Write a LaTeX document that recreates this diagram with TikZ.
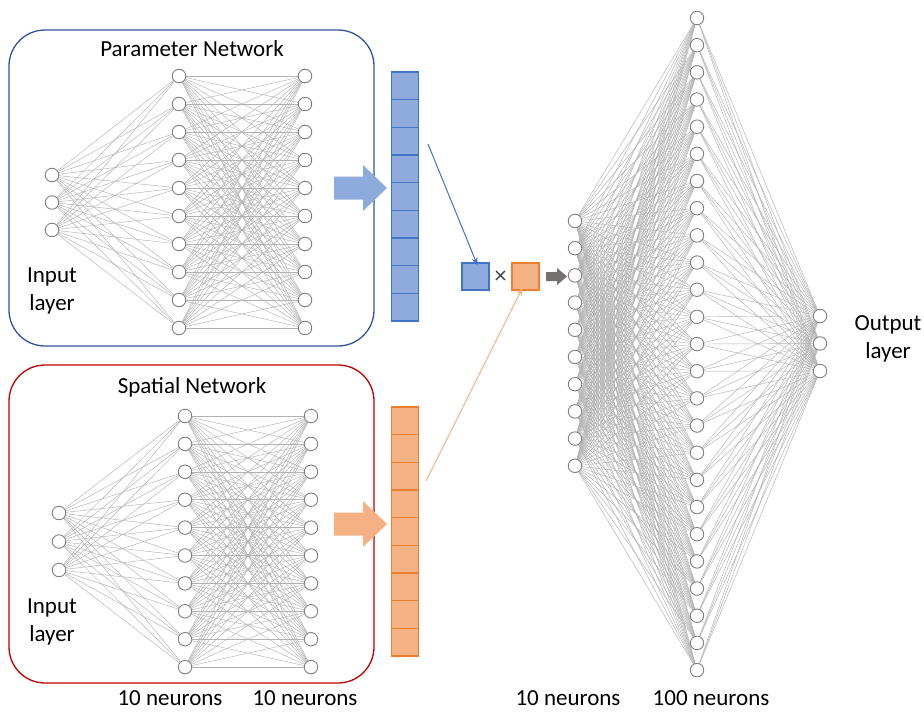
\documentclass[tikz,border=0pt]{standalone}
\usepackage{fontspec}
\setmainfont{Carlito}
\usetikzlibrary{backgrounds,arrows.meta}
\definecolor{pblue}{HTML}{2F5597}
\definecolor{sred}{HTML}{C00000}
\definecolor{bfill}{HTML}{8FAADC}
\definecolor{bline}{HTML}{4472C4}
\definecolor{ofill}{HTML}{F4B183}
\definecolor{oline}{HTML}{ED7D31}
\definecolor{garrow}{HTML}{767171}
\tikzset{
  neuron/.style={circle, draw=black!50, fill=white, line width=0.9pt, minimum size=13.5pt, inner sep=0pt},
  edge/.style={draw=black!30, line width=0.45pt},
  lbl/.style={font=\fontsize{23}{28}\selectfont, align=center, inner sep=0pt},
  netbox/.style={rounded corners=36pt, line width=1.3pt, minimum width=365pt, inner sep=0pt},
  bcell/.style={draw=bline, fill=bfill, line width=1.2pt, minimum width=27pt, minimum height=27.67pt, inner sep=0pt},
  ocell/.style={draw=oline, fill=ofill, line width=1.2pt, minimum width=27pt, minimum height=27.67pt, inner sep=0pt},
}
\begin{document}
\begin{tikzpicture}[x=1pt,y=-1pt]
\useasboundingbox (0,0) rectangle (924,712);
% boxes
\node[netbox, draw=pblue, minimum height=316pt] (pbox) at (191.5,188) {};
\node[netbox, draw=sred, minimum height=318pt] (sbox) at (191.5,524) {};
\node[lbl] (ptitle) at (192,49) {Parameter Network};
\node[lbl] (stitle) at (192,387) {Spatial Network};
\node[lbl] (pin) at (52,291) {Input\\layer};
\node[lbl] (sin) at (52,622) {Input\\layer};
\node[lbl] (outl) at (888,339) {Output\\layer};
\node[lbl] (n1) at (170,698) {10 neurons};
\node[lbl] (n2) at (305,698) {10 neurons};
\node[lbl] (n3) at (568,698) {10 neurons};
\node[lbl] (n4) at (711,698) {100 neurons};
% parameter network
\foreach \i in {1,2,3} {\node[neuron] (pi\i) at (52,{175+27.5*(\i-1)}) {};}
\foreach \i in {1,...,10} {\node[neuron] (pa\i) at (179,{76+28*(\i-1)}) {};
  \node[neuron] (pb\i) at (305,{76+28*(\i-1)}) {};}
% spatial network
\foreach \i in {1,2,3} {\node[neuron] (si\i) at (59,{513+28.5*(\i-1)}) {};}
\foreach \i in {1,...,10} {\node[neuron] (sa\i) at (185,{416+27.9*(\i-1)}) {};
  \node[neuron] (sb\i) at (311,{416+27.9*(\i-1)}) {};}
% right network
\foreach \i in {1,...,10} {\node[neuron] (ra\i) at (575,{221+27.2*(\i-1)}) {};}
\foreach \i in {1,...,25} {\node[neuron] (rb\i) at (697,{18+27.17*(\i-1)}) {};}
\foreach \i in {1,2,3} {\node[neuron] (rc\i) at (820,{316+27.5*(\i-1)}) {};}
\begin{pgfonlayer}{background}
\foreach \i in {1,2,3} {\foreach \j in {1,...,10} {\draw[edge] (pi\i) -- (pa\j); \draw[edge] (si\i) -- (sa\j);}}
\foreach \i in {1,...,10} {\foreach \j in {1,...,10} {\draw[edge] (pa\i) -- (pb\j); \draw[edge] (sa\i) -- (sb\j);}}
\foreach \i in {1,...,10} {\foreach \j in {1,...,25} {\draw[edge] (ra\i) -- (rb\j);}}
\foreach \i in {1,...,25} {\foreach \j in {1,2,3} {\draw[edge] (rb\i) -- (rc\j);}}
\end{pgfonlayer}
% vectors
\foreach \i in {1,...,9} {\node[bcell] (pv\i) at (405,{72+27.67*(\i-0.5)}) {};
  \node[ocell] (sv\i) at (405,{407+27.67*(\i-0.5)}) {};}
% big arrows
\fill[bfill] (334,176.5) -- (363,176.5) -- (363,165) -- (387,188) -- (363,211) -- (363,199.5) -- (334,199.5) -- cycle;
\fill[ofill] (334,512.5) -- (363,512.5) -- (363,501) -- (387,524) -- (363,547) -- (363,535.5) -- (334,535.5) -- cycle;
% product
\node[draw=bline, fill=bfill, line width=1.3pt, minimum size=27pt, inner sep=0pt] (bsq) at (475.5,276.5) {};
\node[draw=oline, fill=ofill, line width=1.3pt, minimum size=27pt, inner sep=0pt] (osq) at (525.5,276.5) {};
\node[font=\fontsize{24}{24}\selectfont, text=black!75, inner sep=0pt] (times) at (500.5,277) {×};
\coordinate (bstart) at (428,144);
\coordinate (ostart) at (426,481);
\draw[bline, line width=1pt, -{Stealth[length=8pt,width=6pt]}] (bstart) -- ([xshift=2pt,yshift=-3pt]bsq.north);
\draw[ofill, line width=1pt, -{Stealth[length=8pt,width=6pt]}] (ostart) -- ([xshift=-3pt,yshift=3pt]osq.south);
\fill[garrow] (546,272) -- (557,272) -- (557,268) -- (567,276.5) -- (557,285) -- (557,281) -- (546,281) -- cycle;
\end{tikzpicture}
\end{document}
